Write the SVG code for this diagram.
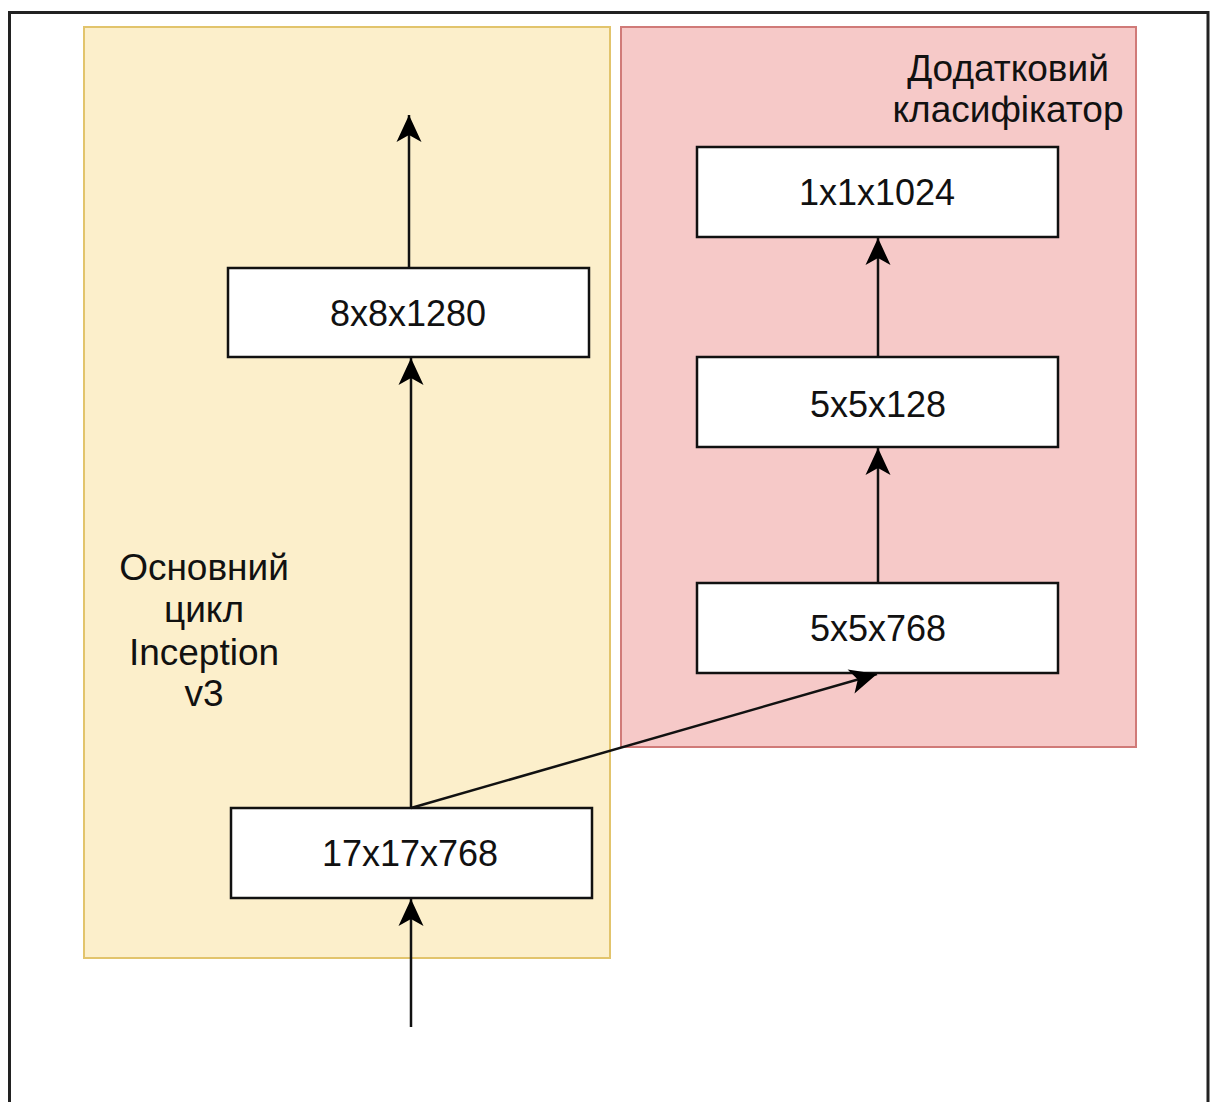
<svg xmlns="http://www.w3.org/2000/svg" width="1211" height="1102" viewBox="0 0 1211 1102">
<style>
.node rect{fill:#fff;stroke:#111;stroke-width:2.5}
.node text,.lbl{font-family:"Liberation Sans",Arial,sans-serif;font-size:36px;fill:#111;text-anchor:middle}
.lbl{font-size:37px}
.conn{stroke:#111;stroke-width:2.5;fill:none;marker-end:url(#arr)}
</style>
<defs>
<marker id="arr" markerUnits="userSpaceOnUse" markerWidth="30" markerHeight="30" viewBox="-28 -14 30 28" refX="0" refY="0" orient="auto">
<path d="M0,0 L-27,-12.5 L-20,0 L-27,12.5 Z" fill="#000"/>
</marker>
</defs>
<rect x="0" y="0" width="1211" height="1102" fill="#fff"/>
<path d="M9.5,1102 L9.5,12.5 L1208,12.5 L1208,1102" fill="none" stroke="#222" stroke-width="3"/>
<g id="main-group">
<rect x="84" y="27" width="526" height="931" fill="#fcefcb" stroke="#e2c46c" stroke-width="2"/>
<text class="lbl" x="204" y="580">Основний</text>
<text class="lbl" x="204" y="622">цикл</text>
<text class="lbl" x="204" y="665">Inception</text>
<text class="lbl" x="204" y="706">v3</text>
</g>
<g id="aux-group">
<rect x="621" y="27" width="515" height="720" fill="#f6c9c8" stroke="#d07a78" stroke-width="2"/>
<text class="lbl" x="1008" y="81">Додатковий</text>
<text class="lbl" x="1008" y="122">класифікатор</text>
</g>
<g id="n-8x8x1280" class="node"><rect x="228" y="268" width="361" height="89"/><text x="408" y="326">8x8x1280</text></g>
<g id="n-17x17x768" class="node"><rect x="231" y="808" width="361" height="90"/><text x="410" y="866">17x17x768</text></g>
<g id="n-1x1x1024" class="node"><rect x="697" y="147" width="361" height="90"/><text x="877" y="205">1x1x1024</text></g>
<g id="n-5x5x128" class="node"><rect x="697" y="357" width="361" height="90"/><text x="878" y="417">5x5x128</text></g>
<g id="n-5x5x768" class="node"><rect x="697" y="583" width="361" height="90"/><text x="878" y="641">5x5x768</text></g>
<g id="connectors">
<path class="conn" d="M411,1027 L411,899"/>
<path class="conn" d="M411,808 L411,358"/>
<path class="conn" d="M409,268 L409,115"/>
<path class="conn" d="M411,808 L877,674"/>
<path class="conn" d="M878,583 L878,448"/>
<path class="conn" d="M878,357 L878,238"/>
</g>
</svg>
